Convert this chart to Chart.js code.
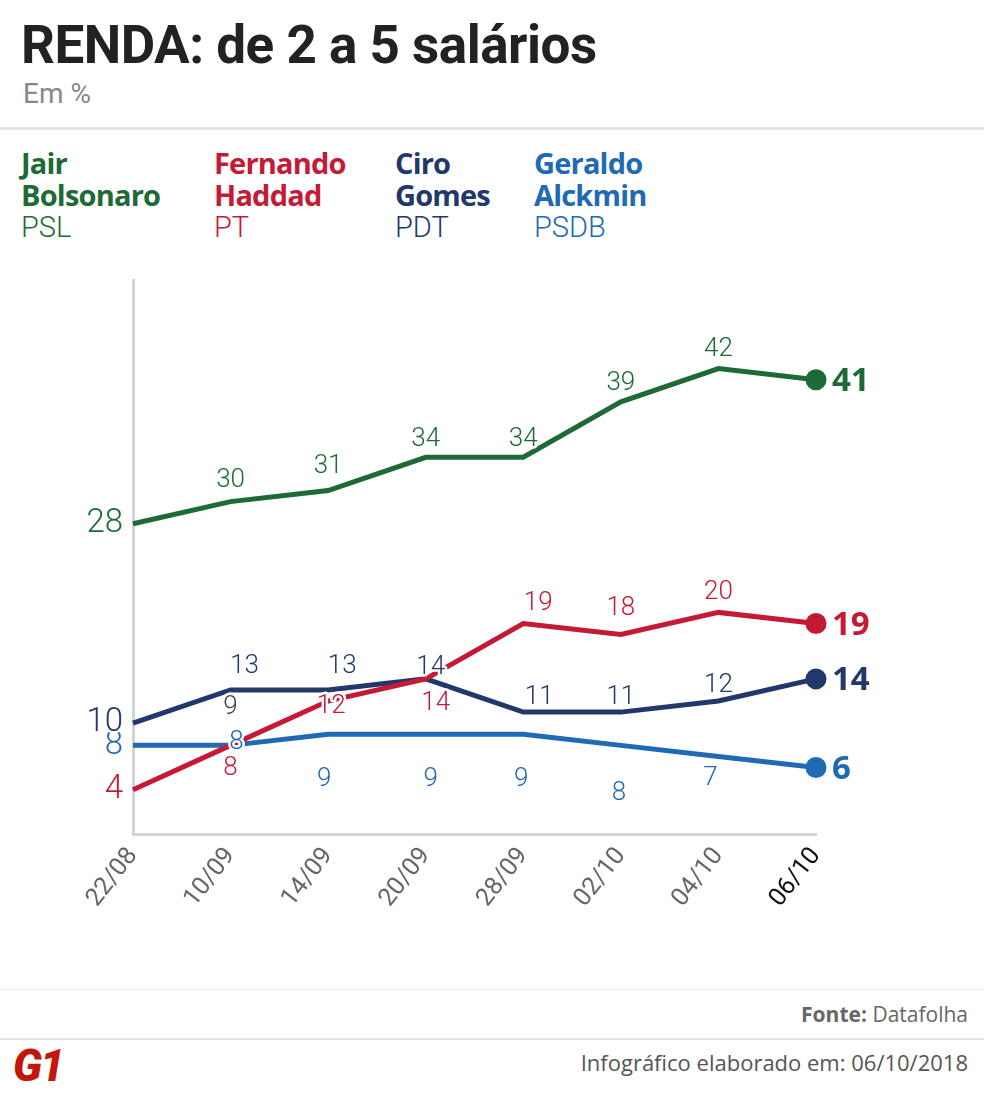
<!DOCTYPE html>
<html>
<head>
<meta charset="utf-8">
<script src="https://cdn.jsdelivr.net/npm/chart.js@4.4.1/dist/chart.umd.min.js"></script>
<style>
  body { margin: 0; background: #fff; width: 984px; height: 1114px; position: relative; overflow: hidden; font-family: "Open Sans", sans-serif; }
  .title { position: absolute; left: 21px; top: 14px; font-family: Roboto, sans-serif; font-weight: 700; font-size: 53px; color: #222; letter-spacing: -0.5px; }
  .sub { position: absolute; left: 23px; top: 77px; font-family: Roboto, sans-serif; font-size: 28px; color: #888; }
  .sep { position: absolute; left: 0; width: 984px; background: #e2e2e2; }
  .leg { position: absolute; top: 147px; font-family: "Open Sans", sans-serif; line-height: 32px; }
  .leg b { display: block; font-size: 29px; font-weight: 700; letter-spacing: -0.8px; }
  .leg span { display: block; font-family: Roboto, sans-serif; font-size: 29px; font-weight: 300; }
  #wrap { position: absolute; left: 0; top: 260px; width: 984px; height: 730px; }
  .fonte { position: absolute; right: 16px; top: 1000px; font-size: 21px; color: #666; }
  .info { position: absolute; right: 16px; top: 1047px; font-size: 22px; color: #555; }
  .g1 { position: absolute; left: 13px; top: 1040px; font-family: Roboto, sans-serif; font-weight: 900; font-style: italic; font-size: 44px; color: #c4170c; letter-spacing: -2px; }
</style>
</head>
<body>
<div class="title">RENDA: de 2 a 5 salários</div>
<div class="sub">Em %</div>
<div class="sep" style="top:127px;height:3px"></div>
<div class="leg" style="left:21px;color:#1d6a36"><b>Jair</b><b>Bolsonaro</b><span>PSL</span></div>
<div class="leg" style="left:214px;color:#c41a35"><b>Fernando</b><b>Haddad</b><span>PT</span></div>
<div class="leg" style="left:395px;color:#22386b"><b>Ciro</b><b>Gomes</b><span>PDT</span></div>
<div class="leg" style="left:534px;color:#2069b5"><b>Geraldo</b><b>Alckmin</b><span>PSDB</span></div>
<div id="wrap"><canvas id="chart"></canvas></div>
<div class="sep" style="top:989px;height:1px;background:#f0f0f0"></div>
<div class="fonte"><b>Fonte:</b> Datafolha</div>
<div class="sep" style="top:1038px;height:2px"></div>
<div class="info">Infográfico elaborado em: 06/10/2018</div>
<div class="g1">G1</div>
<script>
const dates = ['22/08', '10/09', '14/09', '20/09', '28/09', '02/10', '04/10', '06/10'];
const bolsonaro = [28, 30, 31, 34, 34, 39, 42, 41];
const haddad = [4, 8, 12, 14, 19, 18, 20, 19];
const ciro = [10, 13, 13, 14, 11, 11, 12, 14];
const alckmin = [8, 8, 9, 9, 9, 8, 7, 6];
const yMin = 0;
const yMax = 50;

// label offsets [dx, dy] from each point (layout only)
const offBolsonaro = [null, [0, -21], [0, -24], [0, -18], [0, -18], [0, -18], [0, -19], null];
const offHaddad = [null, [0, 23], [3, 5], [10, 25], [15, -20], [0, -26], [0, -20], null];
const offCiro = [null, [14, -23], [14, -23], [5, -11], [16, -15], [0, -15], [0, -16], null];
const offAlckmin = [null, [6, -3], [-4, 45], [5, 45], [-2, 45], [-2, 48], [-8, 22], null];

const series = [
  { label: 'Jair Bolsonaro', data: bolsonaro, color: '#1d6a36', off: offBolsonaro },
  { label: 'Fernando Haddad', data: haddad, color: '#c41a35', off: offHaddad },
  { label: 'Ciro Gomes', data: ciro, color: '#22386b', off: offCiro },
  { label: 'Geraldo Alckmin', data: alckmin, color: '#2069b5', off: offAlckmin }
];

function txt(ctx, s, x, y, font, color, align) {
  ctx.font = font;
  ctx.textAlign = align || 'center';
  ctx.textBaseline = 'middle';
  ctx.lineWidth = 5;
  ctx.strokeStyle = '#fff';
  ctx.lineJoin = 'round';
  ctx.strokeText(s, x, y);
  ctx.fillStyle = color;
  ctx.fillText(s, x, y);
}

const labelPlugin = {
  id: 'labels',
  afterDatasetsDraw(chart) {
    const ctx = chart.ctx;
    ctx.save();
    // reverse so the top series labels sit on top
    for (let d = series.length - 1; d >= 0; d--) {
      const s = series[d];
      const meta = chart.getDatasetMeta(d);
      meta.data.forEach((pt, i) => {
        const v = String(s.data[i]);
        if (i === 0) {
          txt(ctx, v, chart.chartArea.left - 10, pt.y, '300 33px Roboto', s.color, 'right');
        } else if (i === s.data.length - 1) {
          txt(ctx, v, pt.x + 16, pt.y + 2, '700 33px "Open Sans"', s.color, 'left');
        } else {
          const o = s.off[i];
          txt(ctx, v, pt.x + o[0], pt.y + o[1], '300 26px Roboto', s.color);
        }
      });
    }
    // stray grey label seen in the original at 10/09
    const c = chart.getDatasetMeta(2).data[1];
    txt(ctx, '9', c.x, c.y + 18, '300 26px Roboto', '#444');
    ctx.restore();
  }
};

new Chart(document.getElementById('chart'), {
  type: 'line',
  data: {
    labels: dates,
    datasets: series.map(s => ({
      label: s.label,
      data: s.data,
      borderColor: s.color,
      backgroundColor: s.color,
      borderWidth: 5,
      tension: 0,
      pointRadius: s.data.map((v, i) => i === s.data.length - 1 ? 8 : 0),
      pointHoverRadius: 0,
      clip: false
    }))
  },
  options: {
    responsive: true,
    maintainAspectRatio: false,
    animation: false,
    events: [],
    layout: { padding: { top: 20, right: 168, left: 0, bottom: 0 } },
    plugins: { legend: { display: false }, tooltip: { enabled: false } },
    scales: {
      x: {
        offset: false,
        grid: { display: false, drawTicks: false },
        border: { display: true, color: '#d3d3d3', width: 3 },
        ticks: {
          minRotation: 52, maxRotation: 52, padding: 8,
          font: { family: 'Roboto', size: 25 },
          color: dates.map((d, i) => i === dates.length - 1 ? '#111' : '#666')
        },
        afterFit(scale) { scale.height = 156; }
      },
      y: {
        min: yMin, max: yMax,
        grid: { display: false, drawTicks: false },
        border: { display: true, color: '#d3d3d3', width: 3 },
        ticks: { display: false },
        afterFit(scale) { scale.width = 133; }
      }
    }
  },
  plugins: [labelPlugin]
});
</script>
</body>
</html>
